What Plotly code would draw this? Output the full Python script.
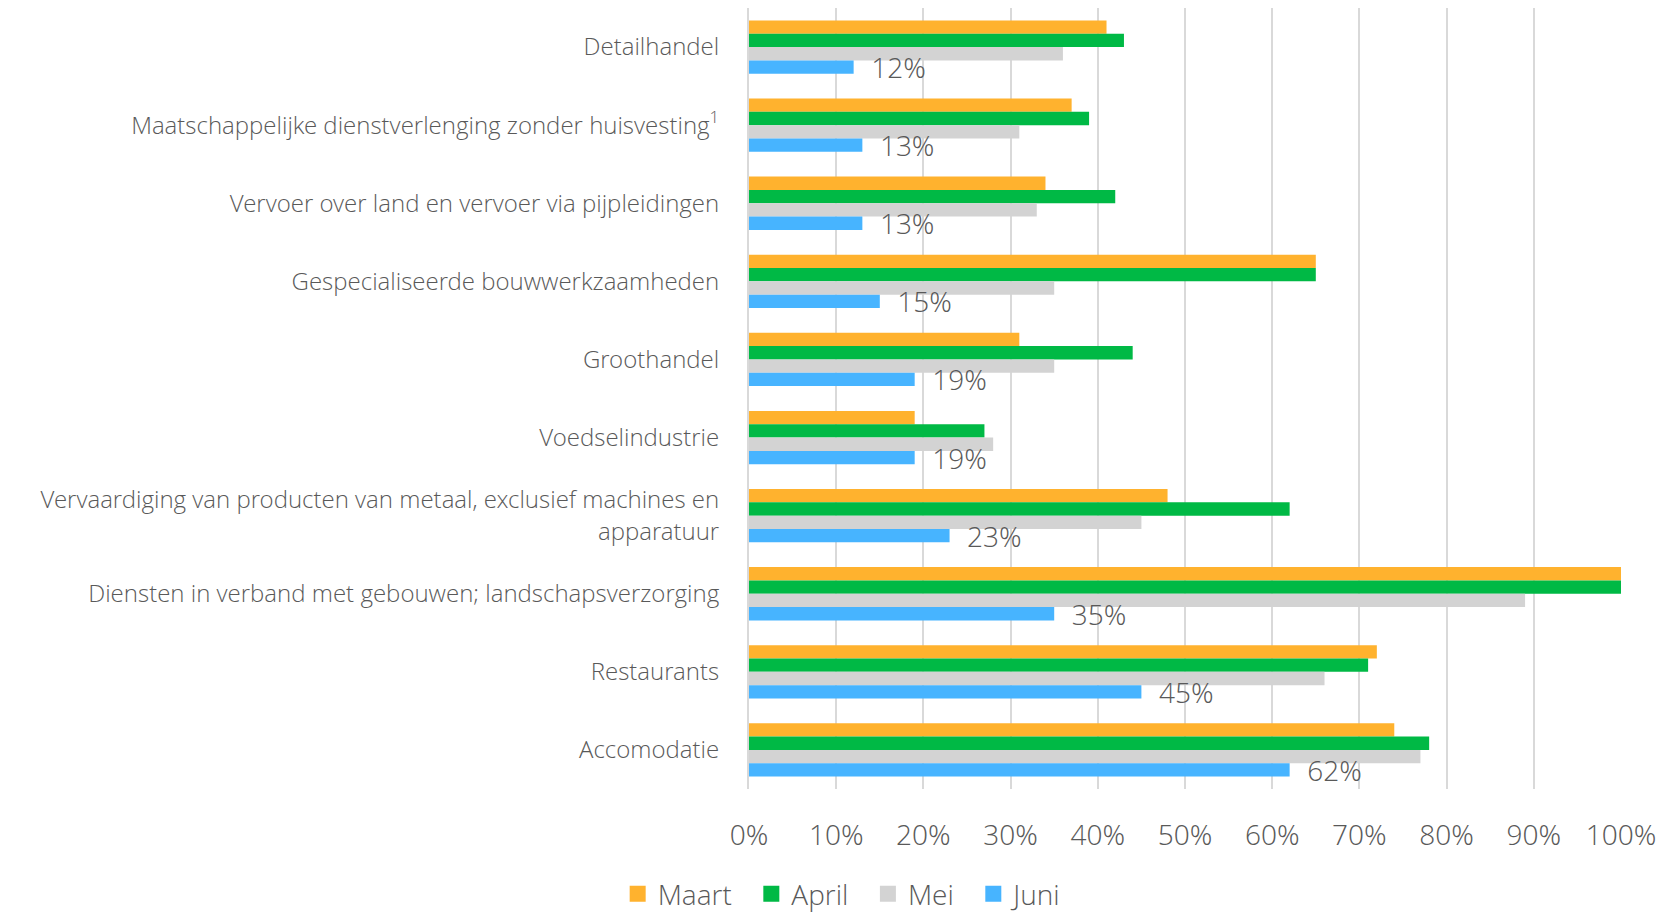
import plotly.graph_objects as go

categories = [
    "Detailhandel",
    "Maatschappelijke dienstverlenging zonder huisvesting<sup>1</sup>",
    "Vervoer over land en vervoer via pijpleidingen",
    "Gespecialiseerde bouwwerkzaamheden",
    "Groothandel",
    "Voedselindustrie",
    "Vervaardiging van producten van metaal, exclusief machines en<br>apparatuur",
    "Diensten in verband met gebouwen; landschapsverzorging",
    "Restaurants",
    "Accomodatie",
]

maart = [41, 37, 34, 65, 31, 19, 48, 100, 72, 74]
april = [43, 39, 42, 65, 44, 27, 62, 100, 71, 78]
mei = [36, 31, 33, 35, 35, 28, 45, 89, 66, 77]
juni = [12, 13, 13, 15, 19, 19, 23, 35, 45, 62]

series_names = ["Maart", "April", "Mei", "Juni"]
series_values = [maart, april, mei, juni]
colors = ["#FFB22E", "#00B945", "#D3D3D3", "#47B4FF"]

tick_vals = [0, 10, 20, 30, 40, 50, 60, 70, 80, 90, 100]
tick_text = [f"{v}%" for v in tick_vals]

FONT = "Segoe UI Light, Open Sans Light, Open Sans, sans-serif"
GREY = "#595959"

fig = go.Figure()
for name, vals, col in zip(series_names, series_values, colors):
    kw = {}
    if name == "Juni":
        kw = dict(
            text=[f"  {v}%" for v in vals],
            textposition="outside",
            textfont=dict(family=FONT, size=28, color=GREY, weight=300),
            constraintext="none",
            cliponaxis=False,
        )
    fig.add_trace(go.Bar(
        y=categories, x=vals, name=name, orientation="h",
        marker=dict(color=col, line=dict(width=0)),
        showlegend=False,
        **kw,
    ))

# legend-only entries with larger square swatches
for name, col in zip(series_names, colors):
    fig.add_trace(go.Scatter(
        x=[None], y=[None], mode="markers", name=name + "\u00a0\u00a0",
        marker=dict(symbol="square", size=22, color=col),
        showlegend=True,
    ))

fig.update_layout(
    width=1667, height=916,
    barmode="group", bargap=0.317, bargroupgap=0,
    plot_bgcolor="white", paper_bgcolor="white",
    margin=dict(l=749, r=46, t=8, b=127),
    font=dict(family=FONT, color=GREY, weight=300),
    showlegend=True,
    legend=dict(
        orientation="h", xref="container", x=0.51, xanchor="center",
        yref="container", y=0.024, yanchor="middle",
        font=dict(size=28, color=GREY, family=FONT, weight=300),
        traceorder="normal", itemwidth=30,
    ),
)
fig.update_xaxes(
    range=[0, 100], tickvals=tick_vals, ticktext=tick_text,
    showgrid=True, gridcolor="#D9D9D9", gridwidth=2,
    zeroline=False, showline=False,
    tickfont=dict(size=28, color=GREY, family=FONT, weight=300),
    ticklabelstandoff=27,
)
fig.update_yaxes(
    autorange="reversed", showgrid=False,
    showline=True, linecolor="#D9D9D9", linewidth=2,
    tickfont=dict(size=24, color=GREY, family=FONT, weight=300),
    ticklabelstandoff=23,
)

fig.write_html(
    "out.html",
    config={"displayModeBar": False},
    post_script="document.body.style.margin='0';document.body.style.overflow='hidden';",
)
